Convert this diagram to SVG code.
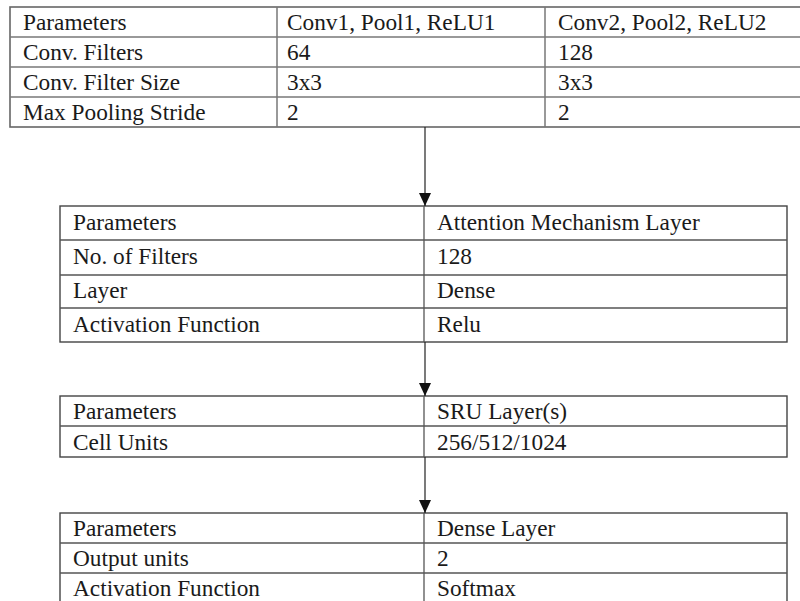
<svg xmlns="http://www.w3.org/2000/svg" width="800" height="601" viewBox="0 0 800 601">
<defs>
<style>
text{font-family:"Liberation Serif","Times New Roman",serif;font-size:23.3px;fill:#1a1a1a}
.b{fill:none;stroke:#444;stroke-width:1.4}
.b1{fill:none;stroke:#666;stroke-width:1.6}
.l{stroke:#555;stroke-width:1.3}
.l1{stroke:#777;stroke-width:1.5}
.c{stroke:#222;stroke-width:1.2;fill:none}
</style>
<marker id="ah" viewBox="0 0 13 12" refX="13" refY="6" markerWidth="13" markerHeight="12" markerUnits="userSpaceOnUse" orient="auto">
<path d="M0,0 L13,6 L0,12 Z" fill="#111"/>
</marker>
</defs>
<rect width="800" height="601" fill="#fff"/>

<g id="conv-table" font-family="Liberation Serif, serif">
<rect class="b1" x="10" y="7" width="792" height="120"/>
<line class="l1" x1="10" y1="37" x2="801" y2="37"/>
<line class="l1" x1="10" y1="67" x2="801" y2="67"/>
<line class="l1" x1="10" y1="97" x2="801" y2="97"/>
<line class="l1" x1="277" y1="7" x2="277" y2="127"/>
<line class="l1" x1="545" y1="7" x2="545" y2="127"/>
<text x="23" y="30">Parameters</text>
<text x="287" y="30">Conv1, Pool1, ReLU1</text>
<text x="558" y="30">Conv2, Pool2, ReLU2</text>
<text x="23" y="60">Conv. Filters</text>
<text x="287" y="60">64</text>
<text x="558" y="60">128</text>
<text x="23" y="90">Conv. Filter Size</text>
<text x="287" y="90">3x3</text>
<text x="558" y="90">3x3</text>
<text x="23" y="120">Max Pooling Stride</text>
<text x="287" y="120">2</text>
<text x="558" y="120">2</text>
</g>

<g id="attention-table" font-family="Liberation Serif, serif">
<rect class="b" x="60" y="206" width="727" height="136"/>
<line class="l" x1="60" y1="240" x2="787" y2="240"/>
<line class="l" x1="60" y1="275" x2="787" y2="275"/>
<line class="l" x1="60" y1="308" x2="787" y2="308"/>
<line class="l" x1="424" y1="206" x2="424" y2="342"/>
<text x="73" y="230">Parameters</text>
<text x="437" y="230">Attention Mechanism Layer</text>
<text x="73" y="264">No. of Filters</text>
<text x="437" y="264">128</text>
<text x="73" y="298">Layer</text>
<text x="437" y="298">Dense</text>
<text x="73" y="332">Activation Function</text>
<text x="437" y="332">Relu</text>
</g>

<g id="sru-table" font-family="Liberation Serif, serif">
<rect class="b" x="60" y="396" width="727" height="61"/>
<line class="l" x1="60" y1="426" x2="787" y2="426"/>
<line class="l" x1="424" y1="396" x2="424" y2="457"/>
<text x="73" y="419">Parameters</text>
<text x="437" y="419">SRU Layer(s)</text>
<text x="73" y="450">Cell Units</text>
<text x="437" y="450">256/512/1024</text>
</g>

<g id="dense-table" font-family="Liberation Serif, serif">
<rect class="b" x="60" y="513" width="727" height="90"/>
<line class="l" x1="60" y1="543" x2="787" y2="543"/>
<line class="l" x1="60" y1="573" x2="787" y2="573"/>
<line class="l" x1="424" y1="513" x2="424" y2="603"/>
<text x="73" y="536">Parameters</text>
<text x="437" y="536">Dense Layer</text>
<text x="73" y="566">Output units</text>
<text x="437" y="566">2</text>
<text x="73" y="596">Activation Function</text>
<text x="437" y="596">Softmax</text>
</g>

<g id="connectors">
<line class="c" x1="425" y1="127" x2="425" y2="206" marker-end="url(#ah)"/>
<line class="c" x1="425" y1="342" x2="425" y2="396" marker-end="url(#ah)"/>
<line class="c" x1="425" y1="457" x2="425" y2="513" marker-end="url(#ah)"/>
</g>
</svg>
